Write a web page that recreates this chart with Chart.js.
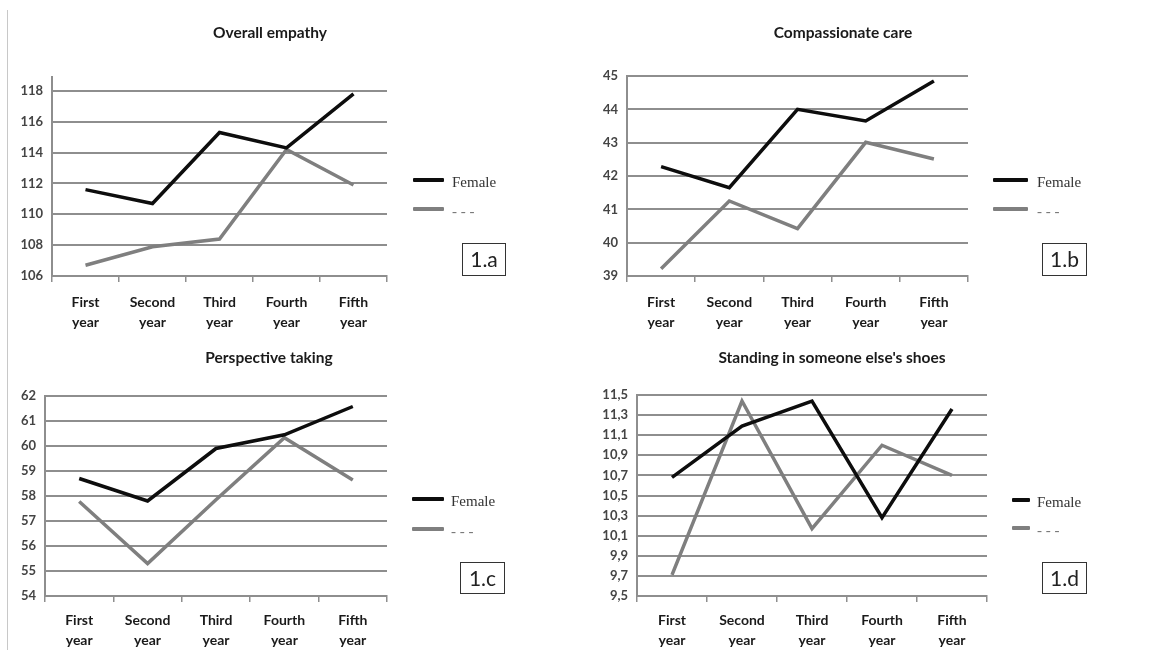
<!DOCTYPE html>
<html>
<head>
<meta charset="utf-8">
<script src="https://cdn.jsdelivr.net/npm/chart.js@4/dist/chart.umd.min.js"></script>
<style>
  body { margin: 0; background: #fff; }
  #page { position: relative; width: 1170px; height: 650px; overflow: hidden; }
  #page canvas { position: absolute; }
  .edge { position: absolute; left: 7px; top: 10px; width: 1px; height: 640px; background: #c8c8c8; }
  .lg-line { position: absolute; height: 4px; border-radius: 1px; }
  .lg-text { position: absolute; font-family: "Liberation Serif", serif; font-size: 15px; color: #333; line-height: 16px; }
  .tag { position: absolute; border: 1.5px solid #333; box-sizing: border-box; font-family: Lato, sans-serif; font-size: 21px; color: #222; text-align: center; }
</style>
</head>
<body>
<div id="page"><div class="edge"></div></div>
<script>
// Daten
const years = [["First", "year"], ["Second", "year"], ["Third", "year"], ["Fourth", "year"], ["Fifth", "year"]];
const seriesNames = ["Female", "- - -"];

const empathyFemale = [111.6, 110.7, 115.3, 114.3, 117.8];
const empathyOther = [106.7, 107.9, 108.4, 114.2, 111.9];

const careFemale = [42.28, 41.65, 44.0, 43.65, 44.85];
const careOther = [39.22, 41.25, 40.42, 43.01, 42.51];

const perspFemale = [58.7, 57.8, 59.9, 60.45, 61.58];
const perspOther = [57.78, 55.3, 57.85, 60.33, 58.64];

const shoesFemale = [10.68, 11.19, 11.44, 10.28, 11.36];
const shoesOther = [9.71, 11.44, 10.17, 11.0, 10.7];

const lineColors = ["#0d0d0d", "#7f7f7f"];
const gridColor = "#8e8e8e";

// Anordnung der vier Diagramme
const panels = [
  { title: "Overall empathy", values: [empathyFemale, empathyOther], min: 106, max: 118.9, step: 2,
    left: 10, top: 0, w: 520, h: 331, yW: 42, rightW: 143, tTop: 24.1, tBottom: 34.3, xH: 55, labPad: 10,
    lg: { x: 413, w: 31, y1: 180, y2: 209, tx: 452 }, tag: { text: "1.a", x: 462, y: 243, w: 44, h: 33 } },
  { title: "Compassionate care", values: [careFemale, careOther], min: 39, max: 45, step: 1,
    left: 592, top: 0, w: 502, h: 331, yW: 35, rightW: 126, tTop: 24.1, tBottom: 33.3, xH: 55, labPad: 10,
    lg: { x: 993, w: 35, y1: 180, y2: 209, tx: 1037 }, tag: { text: "1.b", x: 1042, y: 243, w: 45, h: 33 } },
  { title: "Perspective taking", values: [perspFemale, perspOther], min: 54, max: 62, step: 1,
    left: 10, top: 331, w: 518, h: 319, yW: 35, rightW: 141, tTop: 17.7, tBottom: 28.7, xH: 54, labPad: 8,
    lg: { x: 412, w: 32, y1: 499, y2: 529, tx: 451 }, tag: { text: "1.c", x: 460, y: 562, w: 45, h: 32 } },
  { title: "Standing in someone else's shoes", values: [shoesFemale, shoesOther], min: 9.5, max: 11.5, step: 0.2,
    left: 602, top: 331, w: 460, h: 319, yW: 35, rightW: 75, tTop: 17.7, tBottom: 27.7, xH: 54, labPad: 8, comma: true,
    lg: { x: 1012, w: 18, y1: 500, y2: 528, tx: 1037 }, tag: { text: "1.d", x: 1042, y: 562, w: 45, h: 32 } }
];

const page = document.getElementById("page");

function addLegend(p) {
  [p.lg.y1, p.lg.y2].forEach(function (y, i) {
    const line = document.createElement("div");
    line.className = "lg-line";
    line.style.left = p.lg.x + "px";
    line.style.top = (y - 2) + "px";
    line.style.width = p.lg.w + "px";
    line.style.background = lineColors[i];
    page.appendChild(line);

    const txt = document.createElement("div");
    txt.className = "lg-text";
    txt.textContent = seriesNames[i];
    txt.style.left = p.lg.tx + "px";
    txt.style.top = (y - 6) + "px";
    if (i === 1) txt.style.color = "#777";
    page.appendChild(txt);
  });

  const tag = document.createElement("div");
  tag.className = "tag";
  tag.textContent = p.tag.text;
  tag.style.left = p.tag.x + "px";
  tag.style.top = p.tag.y + "px";
  tag.style.width = p.tag.w + "px";
  tag.style.height = p.tag.h + "px";
  tag.style.lineHeight = (p.tag.h - 3) + "px";
  page.appendChild(tag);
}

function createLineChart(p) {
  const canvas = document.createElement("canvas");
  canvas.width = p.w;
  canvas.height = p.h;
  canvas.style.left = p.left + "px";
  canvas.style.top = p.top + "px";
  page.appendChild(canvas);

  return new Chart(canvas.getContext("2d"), {
    type: "line",
    data: {
      labels: years,
      datasets: p.values.map(function (v, i) {
        return {
          label: seriesNames[i],
          data: v,
          borderColor: lineColors[i],
          borderWidth: 3.5,
          pointRadius: 0,
          tension: 0,
          yAxisID: "y"
        };
      })
    },
    options: {
      responsive: false,
      animation: false,
      layout: { padding: 0 },
      plugins: {
        legend: { display: false },
        tooltip: { enabled: false },
        title: {
          display: true,
          text: p.title,
          color: "#1a1a1a",
          font: { family: "Lato", size: 15.5, weight: "bold" },
          padding: { top: p.tTop, bottom: p.tBottom }
        }
      },
      scales: {
        x: {
          offset: true,
          grid: { offset: true, drawOnChartArea: false, tickLength: 6, color: gridColor, lineWidth: 1.5 },
          border: { color: gridColor, width: 2 },
          ticks: {
            color: "#1a1a1a",
            padding: p.labPad,
            maxRotation: 0,
            font: { family: "Lato", size: 14, weight: "bold", lineHeight: 1.43 }
          },
          afterFit: function (scale) { scale.height = p.xH; }
        },
        y: {
          min: p.min,
          max: p.max,
          grid: { color: gridColor, lineWidth: 2, drawTicks: false },
          border: { color: gridColor, width: 2 },
          ticks: {
            stepSize: p.step,
            includeBounds: false,
            padding: 9,
            color: "#444",
            font: { family: "Lato", size: 13, weight: "bold" },
            callback: function (value) {
              return p.comma ? value.toFixed(1).replace(".", ",") : value;
            }
          },
          afterFit: function (scale) { scale.width = p.yW; }
        },
        spacer: {
          position: "right",
          grid: { display: false },
          border: { display: false },
          ticks: { display: false },
          afterFit: function (scale) { scale.width = p.rightW; }
        }
      }
    }
  });
}

panels.forEach(function (p) {
  createLineChart(p);
  addLegend(p);
});
</script>
</body>
</html>
